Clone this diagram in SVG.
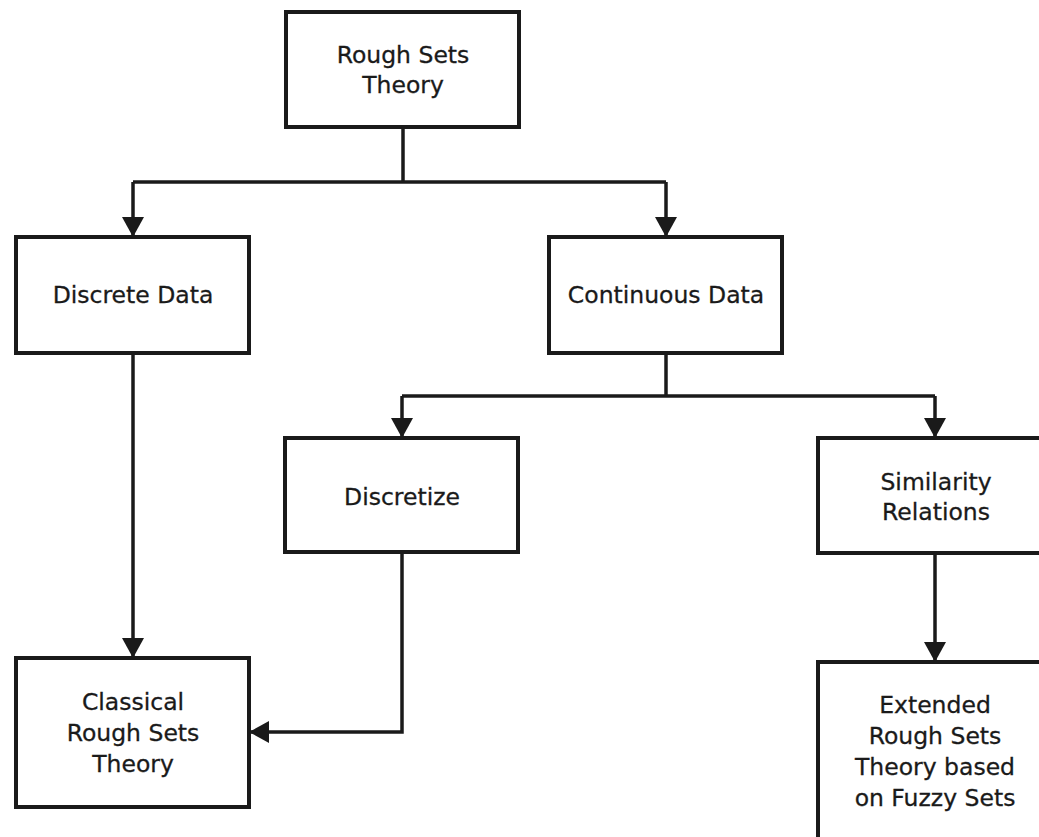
<svg xmlns="http://www.w3.org/2000/svg" width="1039" height="837" viewBox="0 0 1039 837">
<style>
.box{fill:#fff;stroke:#1a1a1a;stroke-width:4}
.lbl{font-family:"DejaVu Sans",sans-serif;font-size:23.5px;fill:#1a1a1a;stroke:#1a1a1a;stroke-width:0.3;text-anchor:middle}
.con{fill:none;stroke:#1a1a1a;stroke-width:3.5}
</style>
<defs>
<marker id="ah" markerUnits="userSpaceOnUse" markerWidth="20" markerHeight="22" refX="20" refY="11" orient="auto">
<path d="M0,0 L20,11 L0,22 z" fill="#1a1a1a"/>
</marker>
</defs>
<rect width="1039" height="837" fill="#fff"/>
<g id="connectors">
<path class="con" d="M403,127 V182"/>
<path class="con" d="M133,182 H666"/>
<path class="con" d="M133,182 V237" marker-end="url(#ah)"/>
<path class="con" d="M666,182 V237" marker-end="url(#ah)"/>
<path class="con" d="M666,353 V396"/>
<path class="con" d="M402,396 H935"/>
<path class="con" d="M402,396 V438" marker-end="url(#ah)"/>
<path class="con" d="M935,396 V438" marker-end="url(#ah)"/>
<path class="con" d="M133,353 V658" marker-end="url(#ah)"/>
<path class="con" d="M402,552 V732 H249" marker-end="url(#ah)"/>
<path class="con" d="M935,553 V662" marker-end="url(#ah)"/>
</g>
<g id="root">
<rect class="box" x="286" y="12" width="233" height="115"/>
<text class="lbl" x="403" y="63">Rough Sets</text>
<text class="lbl" x="403" y="93">Theory</text>
</g>
<g id="discrete">
<rect class="box" x="16" y="237" width="233" height="116"/>
<text class="lbl" x="133" y="303">Discrete Data</text>
</g>
<g id="continuous">
<rect class="box" x="549" y="237" width="233" height="116"/>
<text class="lbl" x="666" y="303">Continuous Data</text>
</g>
<g id="discretize">
<rect class="box" x="285" y="438" width="233" height="114"/>
<text class="lbl" x="402" y="505">Discretize</text>
</g>
<g id="similarity">
<rect class="box" x="818" y="438" width="236" height="115"/>
<text class="lbl" x="936" y="490">Similarity</text>
<text class="lbl" x="936" y="520">Relations</text>
</g>
<g id="classical">
<rect class="box" x="16" y="658" width="233" height="149"/>
<text class="lbl" x="133" y="710">Classical</text>
<text class="lbl" x="133" y="741">Rough Sets</text>
<text class="lbl" x="133" y="772">Theory</text>
</g>
<g id="extended">
<rect class="box" x="818" y="662" width="236" height="200"/>
<text class="lbl" x="935" y="713">Extended</text>
<text class="lbl" x="935" y="744">Rough Sets</text>
<text class="lbl" x="935" y="775">Theory based</text>
<text class="lbl" x="935" y="806">on Fuzzy Sets</text>
</g>
</svg>
